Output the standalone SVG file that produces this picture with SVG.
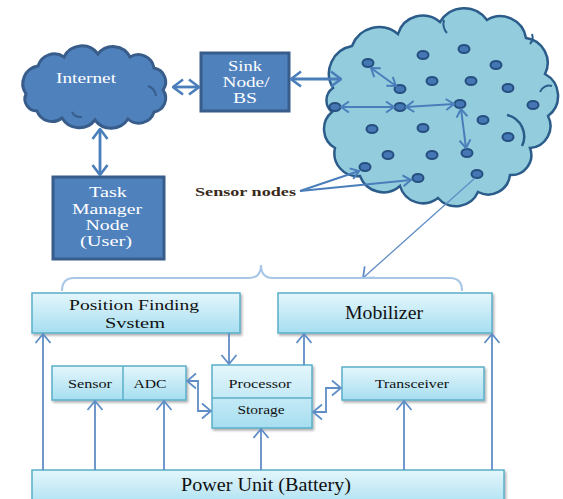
<svg xmlns="http://www.w3.org/2000/svg" width="563" height="499" viewBox="0 0 563 499">
  <defs>
    <style>
      .dark { fill: #4F81BD; stroke: #385D8A; stroke-width: 3; }
      .wtxt { fill: #ffffff; }
      .btxt { fill: #111111; }
      .lbox { fill: url(#boxGrad); stroke: #5AAFC9; stroke-width: 1.5; filter: url(#shadow); }
      .div { stroke: #5AAFC9; stroke-width: 1.5; fill: none; }
      .dot { fill: #4577B5; stroke: #264F80; stroke-width: 2; }
      .thick { stroke: #4A7EBB; stroke-width: 2.8; fill: none; }
      .mid { stroke: #4A7EBB; stroke-width: 2; fill: none; }
      .thin { stroke: #5F8DC6; stroke-width: 1.8; fill: none; }
    </style>
    <linearGradient id="boxGrad" x1="0" y1="0" x2="0" y2="1">
      <stop offset="0" stop-color="#E4F6FC"/>
      <stop offset="1" stop-color="#A6DEF0"/>
    </linearGradient>
    <filter id="shadow" x="-5%" y="-10%" width="115%" height="130%">
      <feDropShadow dx="1.5" dy="2" stdDeviation="1.2" flood-color="#000" flood-opacity="0.3"/>
    </filter>
    <marker id="chevBig" viewBox="0 0 12 18" refX="11" refY="9" markerWidth="12" markerHeight="18" markerUnits="userSpaceOnUse" orient="auto-start-reverse">
      <path d="M1,1.5 L11,9 L1,16.5" fill="none" stroke="#4A7EBB" stroke-width="2.6"/>
    </marker>
    <marker id="chevMid" viewBox="0 0 10 14" refX="9" refY="7" markerWidth="10" markerHeight="14" markerUnits="userSpaceOnUse" orient="auto-start-reverse">
      <path d="M1,1.5 L9,7 L1,12.5" fill="none" stroke="#4A7EBB" stroke-width="2"/>
    </marker>
    <marker id="chevThin" viewBox="0 0 11 18" refX="10" refY="9" markerWidth="11" markerHeight="18" markerUnits="userSpaceOnUse" orient="auto-start-reverse">
      <path d="M1,1.5 L10,9 L1,16.5" fill="none" stroke="#5F8DC6" stroke-width="1.8"/>
    </marker>
  </defs>

  <rect width="563" height="499" fill="#ffffff"/>

  <!-- Internet cloud -->
  <g id="internet">
    <path class="dark" stroke-width="2.5" d="M26,94 A18,18 0 0 1 38,66 A17,17 0 0 1 64,57 A20,20 0 0 1 98,54 A19,19 0 0 1 130,57 A16,16 0 0 1 154,68 A14,14 0 0 1 163,90 A14,14 0 0 1 154,112 A16,16 0 0 1 128,119 A20,20 0 0 1 95,120 A20,20 0 0 1 62,118 A16,16 0 0 1 37,111 A12,12 0 0 1 26,94 Z"/>
    <path d="M148,86 A12,12 0 0 1 156,96" fill="none" stroke="#385D8A" stroke-width="2"/>
    <path d="M72,112 A10,10 0 0 0 82,117" fill="none" stroke="#385D8A" stroke-width="2"/>
    <text class="wtxt" x="86" y="83" font-family="Liberation Serif" text-anchor="middle" font-size="15" textLength="60" lengthAdjust="spacingAndGlyphs">Internet</text>
  </g>

  <!-- Sink node / base station -->
  <g id="sink">
    <rect class="dark" x="201" y="53" width="88" height="58"/>
    <text class="wtxt" x="245" y="71" font-family="Liberation Serif" text-anchor="middle" font-size="15.5" textLength="34" lengthAdjust="spacingAndGlyphs">Sink</text>
    <text class="wtxt" x="246" y="87" font-family="Liberation Serif" text-anchor="middle" font-size="15.5" textLength="47" lengthAdjust="spacingAndGlyphs">Node/</text>
    <text class="wtxt" x="245" y="103" font-family="Liberation Serif" text-anchor="middle" font-size="15.5" textLength="24" lengthAdjust="spacingAndGlyphs">BS</text>
  </g>

  <!-- Task manager node -->
  <g id="task-manager">
    <rect class="dark" x="53" y="177" width="111" height="82" stroke="#2F5382"/>
    <text class="wtxt" x="108" y="197" font-family="Liberation Serif" text-anchor="middle" font-size="15.5" textLength="38" lengthAdjust="spacingAndGlyphs">Task</text>
    <text class="wtxt" x="107" y="214" font-family="Liberation Serif" text-anchor="middle" font-size="15.5" textLength="70" lengthAdjust="spacingAndGlyphs">Manager</text>
    <text class="wtxt" x="107" y="230" font-family="Liberation Serif" text-anchor="middle" font-size="15.5" textLength="43" lengthAdjust="spacingAndGlyphs">Node</text>
    <text class="wtxt" x="106" y="246" font-family="Liberation Serif" text-anchor="middle" font-size="15.5" textLength="52" lengthAdjust="spacingAndGlyphs">(User)</text>
  </g>

  <!-- Sensor field cloud with sensor nodes -->
  <g id="sensor-field">
    <path fill="#93CDDD" stroke="#2B5C8A" stroke-width="2.5" d="M333,88 A28,28 0 0 1 352,46 A29,29 0 0 1 398,34 A26,26 0 0 1 440,22 A28,28 0 0 1 487,20 A26,26 0 0 1 526,38 A25,25 0 0 1 545,74 A25,25 0 0 1 548,116 A22,22 0 0 1 530,148 A20,20 0 0 1 510,175 A22,22 0 0 1 478,192 A24,24 0 0 1 438,198 A24,24 0 0 1 400,186 A25,25 0 0 1 360,176 A23,23 0 0 1 335,148 A22,22 0 0 1 332,112 A15,15 0 0 1 333,88 Z"/>
    <path d="M507,115 A22,22 0 0 1 522,146" fill="none" stroke="#2B5C8A" stroke-width="2.5"/>
    <path d="M444,20 A14,14 0 0 0 447,33" fill="none" stroke="#2B5C8A" stroke-width="2"/>
    <path d="M532,34 A10,10 0 0 1 530,44" fill="none" stroke="#2B5C8A" stroke-width="2"/>
    <path d="M540,92 A10,10 0 0 1 552,86" fill="none" stroke="#2B5C8A" stroke-width="2"/>
    <g>
      <ellipse class="dot" cx="368" cy="63" rx="5.5" ry="4"/>
      <ellipse class="dot" cx="423" cy="55" rx="5.5" ry="4"/>
      <ellipse class="dot" cx="464" cy="49" rx="5.5" ry="4"/>
      <ellipse class="dot" cx="496" cy="65" rx="5.5" ry="4"/>
      <ellipse class="dot" cx="432" cy="81" rx="5.5" ry="4"/>
      <ellipse class="dot" cx="471" cy="81" rx="5.5" ry="4"/>
      <ellipse class="dot" cx="508" cy="88" rx="5.5" ry="4"/>
      <ellipse class="dot" cx="400" cy="89" rx="5.5" ry="4"/>
      <ellipse class="dot" cx="335" cy="107" rx="5.5" ry="4"/>
      <ellipse class="dot" cx="400" cy="107" rx="5.5" ry="4"/>
      <ellipse class="dot" cx="460" cy="104" rx="5.5" ry="4"/>
      <ellipse class="dot" cx="533" cy="105" rx="5.5" ry="4"/>
      <ellipse class="dot" cx="483" cy="120" rx="5.5" ry="4"/>
      <ellipse class="dot" cx="372" cy="129" rx="5.5" ry="4"/>
      <ellipse class="dot" cx="423" cy="128" rx="5.5" ry="4"/>
      <ellipse class="dot" cx="508" cy="137" rx="5.5" ry="4"/>
      <ellipse class="dot" cx="388" cy="155" rx="5.5" ry="4"/>
      <ellipse class="dot" cx="432" cy="155" rx="5.5" ry="4"/>
      <ellipse class="dot" cx="467" cy="153" rx="5.5" ry="4"/>
      <ellipse class="dot" cx="365" cy="167" rx="5.5" ry="4"/>
      <ellipse class="dot" cx="418" cy="178" rx="5.5" ry="4"/>
      <ellipse class="dot" cx="477" cy="174" rx="5.5" ry="4"/>
    </g>
  </g>

  <g id="sensor-nodes-label">
    <text x="195" y="196" font-family="Liberation Serif" font-weight="bold" font-size="13.5" fill="#3A2A1A" textLength="101" lengthAdjust="spacingAndGlyphs">Sensor nodes</text>
  </g>

  <!-- Node hardware blocks -->
  <g id="position-finding">
    <rect class="lbox" x="32" y="293" width="208" height="40"/>
    <text class="btxt" x="134" y="310" font-family="Liberation Serif" text-anchor="middle" font-size="15.5" textLength="130" lengthAdjust="spacingAndGlyphs">Position Finding</text>
    <text class="btxt" x="135" y="327.5" font-family="Liberation Serif" text-anchor="middle" font-size="15.5" textLength="60" lengthAdjust="spacingAndGlyphs">Svstem</text>
  </g>
  <g id="mobilizer">
    <rect class="lbox" x="278" y="293" width="214" height="40"/>
    <text class="btxt" x="384" y="319" font-family="Liberation Serif" text-anchor="middle" font-size="18" textLength="78" lengthAdjust="spacingAndGlyphs">Mobilizer</text>
  </g>
  <g id="sensor-adc">
    <rect class="lbox" x="52" y="366" width="134" height="34"/>
    <line class="div" x1="123" y1="366" x2="123" y2="400"/>
    <text class="btxt" x="90" y="388" font-family="Liberation Serif" text-anchor="middle" font-size="13" textLength="44" lengthAdjust="spacingAndGlyphs">Sensor</text>
    <text class="btxt" x="150" y="388" font-family="Liberation Serif" text-anchor="middle" font-size="13" textLength="33" lengthAdjust="spacingAndGlyphs">ADC</text>
  </g>
  <g id="processor-storage">
    <rect class="lbox" x="212" y="365" width="100" height="63"/>
    <line class="div" x1="212" y1="398" x2="312" y2="398"/>
    <text class="btxt" x="260" y="388" font-family="Liberation Serif" text-anchor="middle" font-size="13" textLength="63" lengthAdjust="spacingAndGlyphs">Processor</text>
    <text class="btxt" x="261" y="414" font-family="Liberation Serif" text-anchor="middle" font-size="13" textLength="47" lengthAdjust="spacingAndGlyphs">Storage</text>
  </g>
  <g id="transceiver">
    <rect class="lbox" x="342" y="367" width="142" height="33"/>
    <text class="btxt" x="412" y="388" font-family="Liberation Serif" text-anchor="middle" font-size="13" textLength="74" lengthAdjust="spacingAndGlyphs">Transceiver</text>
  </g>
  <g id="power-unit">
    <rect class="lbox" x="32" y="470" width="472" height="40"/>
    <text class="btxt" x="266" y="491" font-family="Liberation Serif" text-anchor="middle" font-size="18.5" textLength="170" lengthAdjust="spacingAndGlyphs">Power Unit (Battery)</text>
  </g>

  <!-- Connectors -->
  <g id="connectors">
    <line class="thick" x1="100" y1="129" x2="100" y2="175" marker-start="url(#chevBig)" marker-end="url(#chevBig)"/>
    <line class="thick" x1="173" y1="87" x2="199" y2="87" marker-start="url(#chevBig)" marker-end="url(#chevBig)"/>
    <line class="thick" x1="291" y1="79" x2="341" y2="79" marker-start="url(#chevBig)" marker-end="url(#chevBig)"/>

    <line class="mid" x1="371" y1="68" x2="396" y2="86" marker-start="url(#chevMid)" marker-end="url(#chevMid)"/>
    <line class="mid" x1="341" y1="107" x2="394" y2="107" marker-start="url(#chevMid)" marker-end="url(#chevMid)"/>
    <line class="mid" x1="406" y1="107" x2="454" y2="104" marker-start="url(#chevMid)" marker-end="url(#chevMid)"/>
    <line class="mid" x1="461" y1="109" x2="466" y2="148" marker-start="url(#chevMid)" marker-end="url(#chevMid)"/>

    <line class="mid" x1="300" y1="191" x2="359" y2="171" marker-end="url(#chevMid)"/>
    <line class="mid" x1="300" y1="191" x2="411" y2="180" marker-end="url(#chevMid)"/>

    <line stroke="#5F8DC6" stroke-width="1.3" x1="475" y1="178" x2="363" y2="278" marker-end="url(#chevThin)"/>
    <path d="M62,291 Q62,278 74,278 L249,278 Q261,278 261,265 Q261,278 273,278 L450,278 Q462,278 462,291" fill="none" stroke="#A8C6E6" stroke-width="2"/>

    <line class="thin" x1="43" y1="470" x2="43" y2="334" marker-end="url(#chevThin)"/>
    <line class="thin" x1="95" y1="470" x2="95" y2="401" marker-end="url(#chevThin)"/>
    <line class="thin" x1="164" y1="470" x2="164" y2="401" marker-end="url(#chevThin)"/>
    <line class="thin" x1="261" y1="470" x2="261" y2="429" marker-end="url(#chevThin)"/>
    <line class="thin" x1="404" y1="470" x2="404" y2="401" marker-end="url(#chevThin)"/>
    <line class="thin" x1="492" y1="470" x2="492" y2="334" marker-end="url(#chevThin)"/>
    <line class="thin" x1="229" y1="333" x2="229" y2="364" marker-end="url(#chevThin)"/>
    <line class="thin" x1="304" y1="365" x2="304" y2="334" marker-end="url(#chevThin)"/>
    <path class="thin" d="M187,381 L198,381 L198,411 L211,411" marker-start="url(#chevThin)" marker-end="url(#chevThin)"/>
    <path class="thin" d="M313,412 L326,412 L326,388 L341,388" marker-start="url(#chevThin)" marker-end="url(#chevThin)"/>
  </g>
</svg>
